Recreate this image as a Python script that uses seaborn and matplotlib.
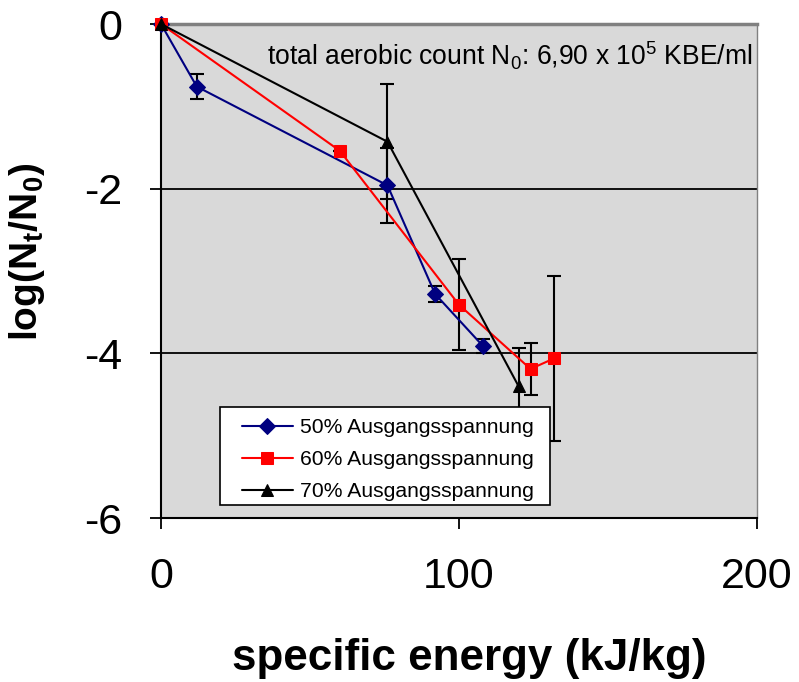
import numpy as np
import pandas as pd
import matplotlib
matplotlib.use("Agg")
import matplotlib.pyplot as plt
from matplotlib.patches import Rectangle
import seaborn as sns

# ---- data ----
x50 = [0, 12, 76, 92, 108]
y50 = [0, -0.76, -1.96, -3.28, -3.91]
e50 = [0, 0.15, 0.46, 0.10, 0.09]

x60 = [0, 60, 100, 124, 132]
y60 = [0, -1.54, -3.41, -4.19, -4.06]
e60 = [0, 0, 0.55, 0.31, 1.0]

x70 = [0, 76, 120]
y70 = [0, -1.43, -4.40]
e70 = [0, 0.70, 0.47]

labels = ["50% Ausgangsspannung", "60% Ausgangsspannung", "70% Ausgangsspannung"]
colors = ["#000080", "#ff0000", "#000000"]
markers = ["D", "s", "^"]
msizes = [8, 8.5, 9]

xticks = [0, 100, 200]
yticks = [0, -2, -4, -6]

sns.set_theme(style="white")
plt.rcParams["font.family"] = ["Liberation Sans", "DejaVu Sans"]
plt.rcParams["mathtext.fontset"] = "custom"
plt.rcParams["mathtext.rm"] = "Liberation Sans"
plt.rcParams["mathtext.bf"] = "Liberation Sans:bold"
for k in ["text.color", "axes.labelcolor", "xtick.color", "ytick.color"]:
    plt.rcParams[k] = "black"

fig = plt.figure(figsize=(7.99, 6.82), dpi=100)
ax = fig.add_axes([161 / 799, 1 - 518 / 682, 596 / 799, 494 / 682])
ax.set_facecolor("#d9d9d9")

series = [(x50, y50, e50), (x60, y60, e60), (x70, y70, e70)]
for (xs, ys, es), lab, c, m, ms in zip(series, labels, colors, markers, msizes):
    df = pd.DataFrame({"x": xs, "y": ys})
    ax.errorbar(xs, ys, yerr=es, fmt="none", ecolor="black", elinewidth=1.5,
                capsize=5, capthick=1.5, zorder=2)
    sns.lineplot(data=df, x="x", y="y", color=c, marker=m, markersize=ms,
                 markeredgecolor=c, linewidth=1.5, label=lab, ax=ax,
                 errorbar=None, sort=False, zorder=3, clip_on=False)

for yv in [-2, -4]:
    ax.axhline(yv, color="black", lw=1.3, zorder=1)

ax.set_xlim(0, 200)
ax.set_ylim(-6, 0)
ax.set_xticks(xticks)
ax.set_yticks(yticks)
ax.set_xticklabels([str(v) for v in xticks])
ax.set_yticklabels([str(v) for v in yticks])
ax.tick_params(axis="both", direction="out", length=8, width=1.3, color="black",
               labelsize=31, pad=20, labelcolor="black")
ax.tick_params(axis="x", bottom=True)
ax.tick_params(axis="y", left=True)

for side in ["left", "bottom"]:
    ax.spines[side].set_color("black")
    ax.spines[side].set_linewidth(1.5)
ax.spines["top"].set_color("#808080")
ax.spines["top"].set_linewidth(2.5)
ax.spines["right"].set_color("#808080")
ax.spines["right"].set_linewidth(1.0)

ax.set_xlabel("specific energy (kJ/kg)", fontsize=31.7, fontweight="bold", color="black")
ax.xaxis.set_label_coords(0.518, -0.243)
ax.set_ylabel(r"log(N$_\mathbf{t}$/N$_\mathbf{0}$)", fontsize=28, fontweight="bold", color="black")
ax.yaxis.set_label_coords(-0.191, 0.538)

ax.text(0.993, 0.915, r"total aerobic count N$_\mathrm{0}$: 6,90 x 10$^\mathrm{5}$ KBE/ml",
        transform=ax.transAxes, ha="right", va="baseline", fontsize=19.1, color="black")

# legend box drawn as a separate white rectangle behind a frameless legend
box = Rectangle((0.099, 0.0263), 0.5537, 0.1984, transform=ax.transAxes,
                facecolor="white", edgecolor="black", lw=1.2, zorder=9, clip_on=False)
ax.add_patch(box)

leg = ax.legend(loc="upper left", bbox_to_anchor=(0.1359, 0.2024), borderaxespad=0,
                fontsize=15.2, frameon=False, handlelength=2.4,
                handletextpad=0.33, labelspacing=0.62, borderpad=0)
leg.set_zorder(10)
for t in leg.get_texts():
    t.set_color("black")

fig.savefig("out.png", dpi=100)
